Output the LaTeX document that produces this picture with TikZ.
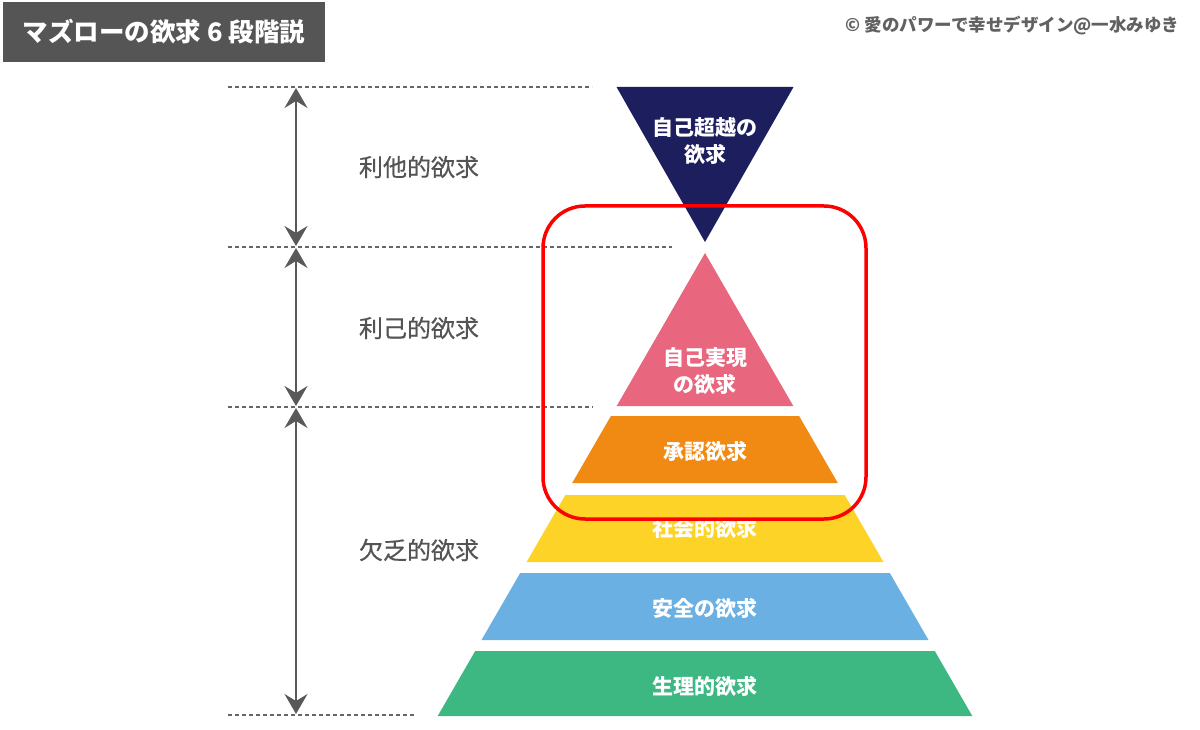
\documentclass[tikz,border=0pt]{standalone}
\usepackage{fontspec}
\setmainfont{Noto Sans CJK JP}
\newfontfamily\medfont[FakeBold=0.5]{Noto Sans CJK JP}
\usetikzlibrary{arrows.meta}

\definecolor{darkgray}{HTML}{555555}
\definecolor{navy}{HTML}{1C1E5E}
\definecolor{pink}{HTML}{E8677F}
\definecolor{orange}{HTML}{F08A12}
\definecolor{yellow}{HTML}{FDD327}
\definecolor{skyblue}{HTML}{6AB0E2}
\definecolor{green}{HTML}{3DB883}

\tikzstyle{titlebox} = [fill=darkgray, text=white, minimum width=322pt, minimum height=60pt, inner sep=0pt, font=\bfseries\fontsize{25.5}{30}\selectfont]
\tikzstyle{credit} = [text=black!62, font=\bfseries\fontsize{17.5}{21}\selectfont, anchor=east]
\tikzstyle{dashline} = [draw=black!60, line width=2pt, dash pattern=on 4pt off 3pt]
\tikzstyle{sidearrow} = [draw=black!65, line width=2pt, <->, >={Stealth[length=20pt,width=23pt,inset=7pt]}, shorten <=1pt, shorten >=1pt]
\tikzstyle{sidelabel} = [text=black!67, font=\medfont\fontsize{24}{28}\selectfont]
\tikzstyle{layerlabel} = [text=white, font=\bfseries\fontsize{21}{27}\selectfont, align=center]
\tikzstyle{redframe} = [draw=red, line width=3.5pt, rounded corners=42pt]

\begin{document}
\begin{tikzpicture}[x=1pt, y=-1pt]
	\useasboundingbox (0,0) rectangle (1200,730);

	\node [titlebox] (title) at (164,32) {マズローの欲求 6 段階説};
	\node [credit] (credit) at (1183,26) {© 愛のパワーで幸せデザイン@一水みゆき};

	% level lines
	\coordinate (l1a) at (228,87);  \coordinate (l1b) at (592,87);
	\coordinate (l2a) at (228,247); \coordinate (l2b) at (672,247);
	\coordinate (l3a) at (228,407); \coordinate (l3b) at (593,407);
	\coordinate (l4a) at (228,715); \coordinate (l4b) at (415,715);
	\draw [dashline] (l1a) -- (l1b);
	\draw [dashline] (l2a) -- (l2b);
	\draw [dashline] (l3a) -- (l3b);
	\draw [dashline] (l4a) -- (l4b);

	\coordinate (a0) at (296,87);
	\coordinate (a1) at (296,247);
	\coordinate (a2) at (296,407);
	\coordinate (a3) at (296,715);
	\draw [sidearrow] (a0) -- (a1);
	\draw [sidearrow] (a1) -- (a2);
	\draw [sidearrow] (a2) -- (a3);

	\node [sidelabel] (altruistic) at (419,167) {利他的欲求};
	\node [sidelabel] (egoistic) at (419,328) {利己的欲求};
	\node [sidelabel] (deficit) at (419,550) {欠乏的欲求};

	% pyramid
	\fill [navy] (616.5,87) -- (793.5,87) -- (705,242) -- cycle;
	\fill [pink] (705,253) -- (793.3,406) -- (616.7,406) -- cycle;
	\fill [orange] (610.9,416) -- (799.1,416) -- (837.8,483) -- (572.2,483) -- cycle;
	\fill [yellow] (565.3,495) -- (844.7,495) -- (883.4,562) -- (526.6,562) -- cycle;
	\fill [skyblue] (520.2,573) -- (889.8,573) -- (928.5,640) -- (481.5,640) -- cycle;
	\fill [green] (475.2,651) -- (934.8,651) -- (972.3,716) -- (437.7,716) -- cycle;

	\node [layerlabel] (transcend) at (705,141) {自己超越の\\欲求};
	\node [layerlabel] (actualize) at (705,371) {自己実現\\の欲求};
	\node [layerlabel] (esteem) at (705,451) {承認欲求};
	\node [layerlabel] (social) at (705,528) {社会的欲求};
	\node [layerlabel] (safety) at (705,608) {安全の欲求};
	\node [layerlabel] (physio) at (705,686) {生理的欲求};

	\draw [redframe] (543,206) rectangle (866,519);
\end{tikzpicture}
\end{document}
